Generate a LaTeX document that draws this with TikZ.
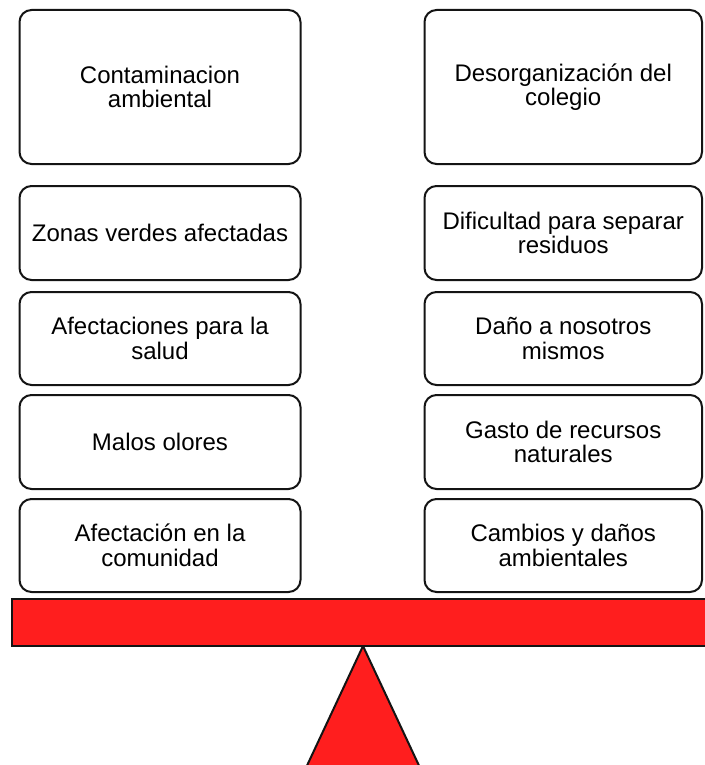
\documentclass[tikz,border=0pt]{standalone}
\usepackage{fontspec}
\setmainfont{Liberation Sans}
\definecolor{barred}{RGB}{255,30,30}
\definecolor{edge}{RGB}{20,20,20}
\begin{document}
\begin{tikzpicture}[x=1pt,y=-1pt,
  card/.style={draw=edge, line width=2pt, rounded corners=12pt, fill=white,
    align=center, inner sep=0pt, font=\fontsize{24}{24.5}\selectfont},
  lcard/.style={card, minimum width=281pt},
  rcard/.style={card, minimum width=277.5pt},
  red shape/.style={draw=edge, line width=2pt, fill=barred}]
\useasboundingbox (0,0) rectangle (704,765);
% left column
\node[lcard, minimum height=154pt] (l1) at (160,87) {Contaminacion\\ambiental};
\node[lcard, minimum height=94pt] (l2) at (160,233) {Zonas verdes afectadas};
\node[lcard, minimum height=93pt] (l3) at (160,338.5) {Afectaciones para la\\salud};
\node[lcard, minimum height=94pt] (l4) at (160,442) {Malos olores};
\node[lcard, minimum height=93pt] (l5) at (160,545.5) {Afectación en la\\comunidad};
% right column
\node[rcard, minimum height=154pt] (r1) at (563.25,87) {Desorganización del\\colegio};
\node[rcard, minimum height=94pt] (r2) at (563.25,233) {Dificultad para separar\\residuos};
\node[rcard, minimum height=93pt] (r3) at (563.25,338.5) {Daño a nosotros\\mismos};
\node[rcard, minimum height=94pt] (r4) at (563.25,442) {Gasto de recursos\\naturales};
\node[rcard, minimum height=93pt] (r5) at (563.25,545.5) {Cambios y daños\\ambientales};
% balance
\draw[red shape] (363,646) -- (304,772) -- (422,772) -- cycle;
\draw[red shape] (12,599) rectangle (712,646);
\end{tikzpicture}
\end{document}
